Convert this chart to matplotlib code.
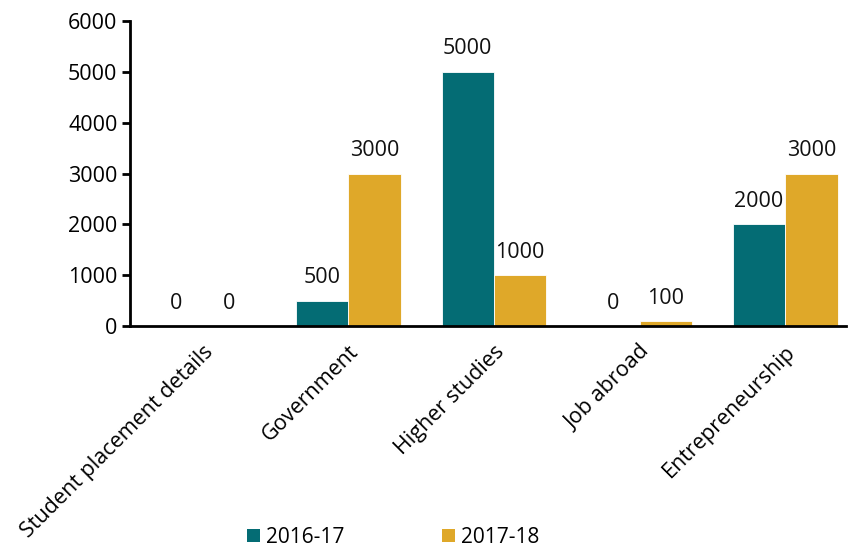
import matplotlib
matplotlib.use("Agg")
import matplotlib.pyplot as plt
from matplotlib.patches import Patch
import numpy as np

plt.rcParams['font.family'] = ['Open Sans', 'DejaVu Sans']

categories = ["Student placement details", "Government", "Higher studies",
              "Job abroad", "Entrepreneurship"]
series_names = ["2016-17", "2017-18"]
values_2016 = [0, 500, 5000, 0, 2000]
values_2017 = [0, 3000, 1000, 100, 3000]
y_ticks = [0, 1000, 2000, 3000, 4000, 5000, 6000]

teal = "#046c74"
gold = "#dfa829"
fs = 15.5

fig = plt.figure(figsize=(8.49, 5.5), dpi=100)
ax = fig.add_axes([0.153, 0.407, 0.844, 0.555])

x = np.arange(len(categories))
w = 0.36
b1 = ax.bar(x - w / 2, values_2016, w, color=teal, edgecolor="white", linewidth=0.6)
b2 = ax.bar(x + w / 2, values_2017, w, color=gold, edgecolor="white", linewidth=0.6)

for bars, vals in ((b1, values_2016), (b2, values_2017)):
    for rect, v in zip(bars, vals):
        ax.annotate(f"{v}", (rect.get_x() + rect.get_width() / 2, v),
                    xytext=(0, 9), textcoords="offset points",
                    ha="center", va="bottom", fontsize=fs, color="#111111")

ax.set_xlim(-0.5, 4.42)
ax.set_ylim(0, 6000)
ax.set_yticks(y_ticks)
ax.set_yticklabels([str(t) for t in y_ticks], fontsize=fs)
ax.set_xticks(x)
ax.set_xticklabels(categories, rotation=45, ha="right", rotation_mode="anchor",
                   fontsize=fs)
ax.tick_params(axis="x", length=0, pad=11)
ax.tick_params(axis="y", length=6, width=2, direction="out", pad=3)

for s in ("top", "right"):
    ax.spines[s].set_visible(False)
ax.spines["left"].set_linewidth(2)
ax.spines["bottom"].set_linewidth(2)

handles = [Patch(facecolor=teal), Patch(facecolor=gold)]
fig.legend(handles, series_names, loc="center", bbox_to_anchor=(0.463, 0.023),
           ncol=2, frameon=False, fontsize=15, handlelength=0.6, handleheight=0.6,
           handletextpad=0.3, columnspacing=4.7)

fig.savefig("out.png", dpi=100)
